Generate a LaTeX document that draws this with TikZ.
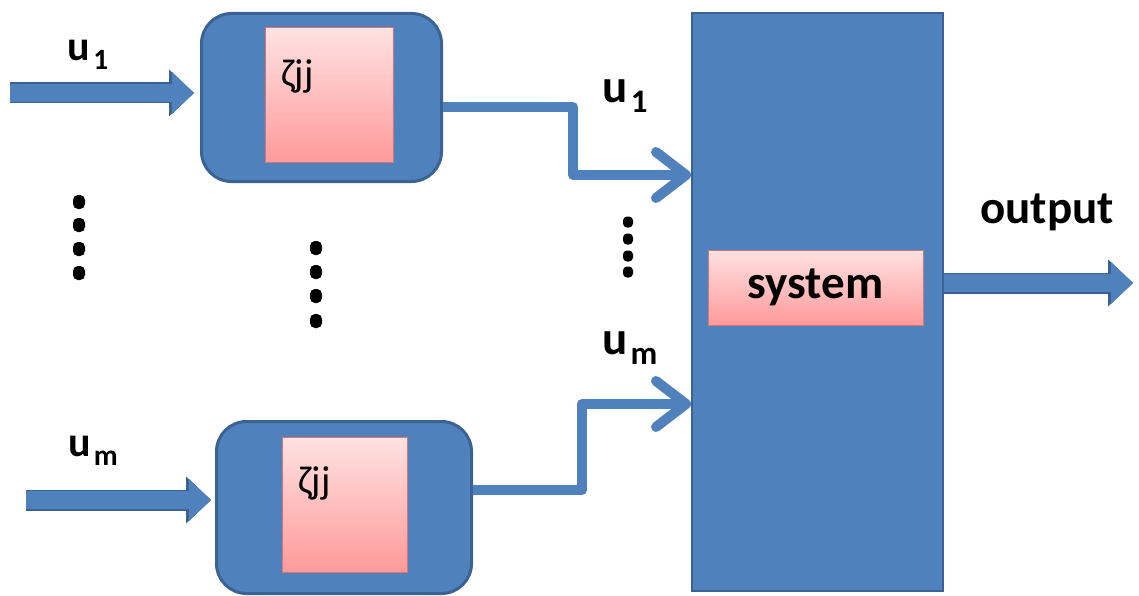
\documentclass[tikz,border=0pt]{standalone}
\usepackage{fontspec}
\usepackage{graphicx}
\setmainfont{Carlito}
\usetikzlibrary{arrows.meta}

\definecolor{blkfill}{HTML}{4F81BD}
\definecolor{blkline}{HTML}{3A6394}
\definecolor{pinktop}{HTML}{FFE2E2}
\definecolor{pinkbot}{HTML}{FF9A9A}
\definecolor{pinkline}{HTML}{E07272}

% letter with a lowered, smaller index
\newcommand{\usub}[2]{#1\kern3pt\raisebox{-0.22em}{\scalebox{0.7}{#2}}}

\tikzset{
  outerbox/.style={draw=blkline, line width=3pt, fill=blkfill, rounded corners=30pt, inner sep=0pt},
  sysbox/.style={draw=blkline, line width=2pt, fill=blkfill, inner sep=0pt},
  innerbox/.style={draw=pinkline, line width=1pt, top color=pinktop, bottom color=pinkbot, inner sep=0pt},
  greek/.style={font=\fontsize{39}{44}\selectfont, inner sep=0pt},
  lbl/.style={font=\fontsize{47}{52}\selectfont\bfseries, inner sep=0pt},
  lblsub/.style={font=\fontsize{47}{52}\selectfont\bfseries, inner sep=0pt},
  lblsmall/.style={font=\fontsize{42}{46}\selectfont\bfseries, inner sep=0pt},
  dotmark/.style={fill=black, rounded corners=5pt, minimum width=12pt, minimum height=14pt, inner sep=0pt},
  dotsmall/.style={fill=black, rounded corners=4pt, minimum width=10pt, minimum height=11pt, inner sep=0pt},
  link/.style={draw=blkfill, line width=10pt, line join=round,
    -{Straight Barb[length=30pt, width=46pt, round]}},
  blockarrow/.style={draw=blkfill, line width=18pt,
    -{Triangle[line width=0pt, length=22pt, width=42pt]},
    preaction={draw=blkline, line width=21pt,
      -{Triangle[line width=0pt, length=25pt, width=47pt]}}},
}

\begin{document}
\begin{tikzpicture}[x=1pt, y=-1pt]
\useasboundingbox (0,0) rectangle (1139,596);

% upper delay block
\node[outerbox, minimum width=240pt, minimum height=168pt] (box1) at (321.5,97.5) {};
\node[innerbox, minimum width=128pt, minimum height=135pt] (core1) at (329,95.5) {};
\node[greek, anchor=west] (z1) at (281,76) {ζjj};

% lower delay block
\node[outerbox, minimum width=255pt, minimum height=172pt] (box2) at (344,507.5) {};
\node[innerbox, minimum width=125pt, minimum height=135pt] (core2) at (344.5,504.5) {};
\node[greek, anchor=west] (z2) at (298,483) {ζjj};

% plant
\node[sysbox, minimum width=251pt, minimum height=578pt] (sys) at (817.5,302) {};
\node[innerbox, minimum width=215pt, minimum height=75pt, lbl] (core) at (815.5,287.5) {system};

% ellipsis marks
\foreach \y [count=\i] in {202,225,249,273}
  \node[dotmark] (dl\i) at (79,\y) {};
\foreach \y [count=\i] in {248,272,296,321}
  \node[dotmark] (dm\i) at (316,\y) {};
\foreach \y [count=\i] in {222,239,256,272}
  \node[dotsmall] (dr\i) at (628,\y) {};

% inputs
\coordinate (in1) at (10,93);
\coordinate (in2) at (26,500);
\draw[blockarrow, shorten >=6pt] (in1) -- (box1.west |- in1);
\draw[blockarrow, shorten >=4pt] (in2) -- (box2.west |- in2);

% delayed signals into the plant
\coordinate (j1) at (573,107);
\coordinate (k1) at (573,175);
\draw[link] (box1.east |- j1) -- (j1) -- (k1) -- (sys.west |- k1);
\coordinate (j2) at (582,490);
\coordinate (k2) at (582,404);
\draw[link] (box2.east |- j2) -- (j2) -- (k2) -- (sys.west |- k2);

% output
\coordinate (out) at (1133,283);
\draw[blockarrow] (sys.east |- out) -- (out);

% labels
\node[lblsmall] (lu1) at (88,55) {\usub{u}{1}};
\node[lblsmall] (lum) at (93,451) {\usub{u}{m}};
\node[lblsub] (ru1) at (625,96) {\usub{u}{1}};
\node[lblsub] (rum) at (630,348) {\usub{u}{m}};
\node[lbl] (outlbl) at (1047,212) {output};
\end{tikzpicture}
\end{document}
